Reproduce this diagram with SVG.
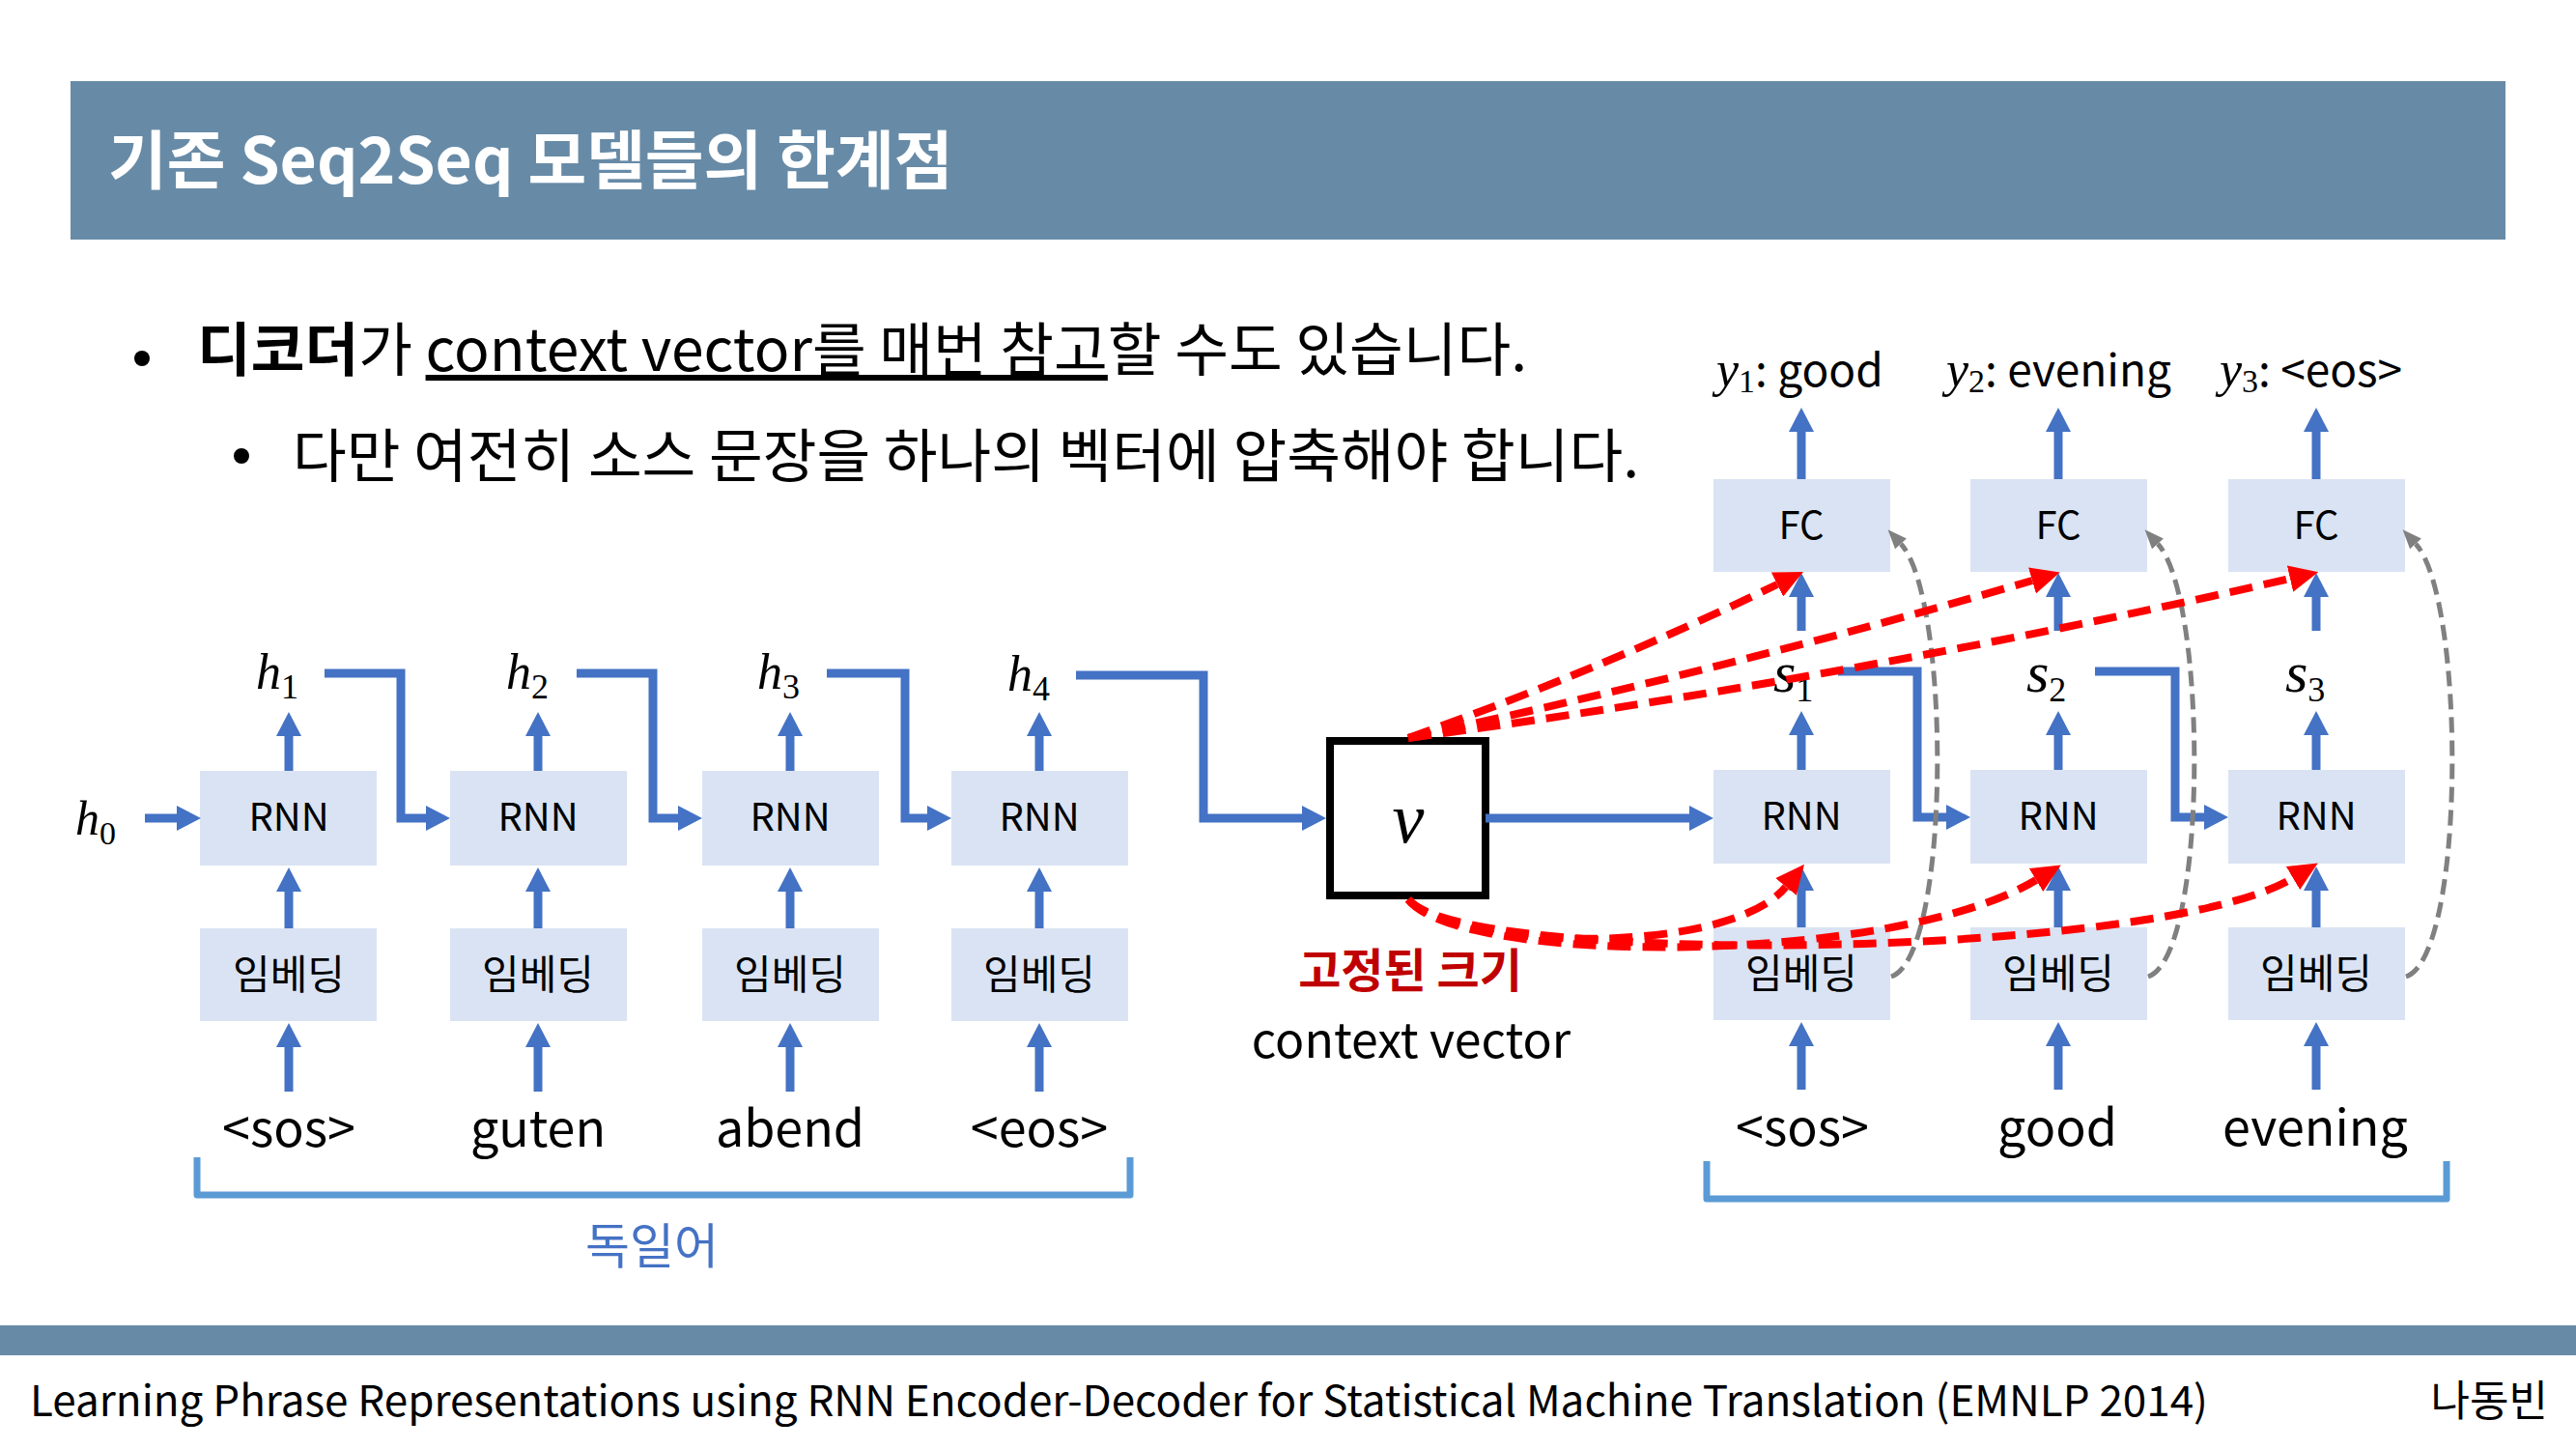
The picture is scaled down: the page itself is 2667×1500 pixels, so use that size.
<svg xmlns="http://www.w3.org/2000/svg" width="2667" height="1500" viewBox="0 0 2667 1500">
  <style>
    .sans { font-family: "Noto Sans CJK KR", "Noto Sans", sans-serif; }
    .math { font-family: "Liberation Serif", "DejaVu Serif", serif; font-style: italic; fill: #000; }
    .sub { font-style: normal; }
    .box { fill: #DAE3F3; }
    .lbl { font-family: "Noto Sans CJK KR", "Noto Sans", sans-serif; font-size: 40px; fill: #000; text-anchor: middle; }
    .emb { font-family: "Noto Sans CJK KR", "Noto Sans", sans-serif; font-size: 42px; fill: #000; text-anchor: middle; }
    .tok { font-family: "Noto Sans CJK KR", "Noto Sans", sans-serif; font-size: 52px; fill: #000; text-anchor: middle; }
    .flow { stroke: #4472C4; stroke-width: 9; fill: none; marker-end: url(#ah); }
    .attn { stroke: #FF0000; stroke-width: 8; fill: none; stroke-dasharray: 24 12; marker-end: url(#ar); }
    .skip { stroke: #808080; stroke-width: 5; fill: none; stroke-dasharray: 16 8; marker-end: url(#ag); }
    .brace { stroke: #5B9BD5; stroke-width: 7; fill: none; stroke-linejoin: round; }
  </style>
  <defs>
    <marker id="ah" markerUnits="userSpaceOnUse" viewBox="0 0 25 26" refX="0" refY="13" markerWidth="25" markerHeight="26" orient="auto">
      <path d="M0 0L25 13L0 26z" fill="#4472C4"/>
    </marker>
    <marker id="ar" markerUnits="userSpaceOnUse" viewBox="0 0 30 28" refX="0" refY="14" markerWidth="30" markerHeight="28" orient="auto">
      <path d="M0 0L30 14L0 28z" fill="#FF0000"/>
    </marker>
    <marker id="ag" markerUnits="userSpaceOnUse" viewBox="0 0 20 16" refX="0" refY="8" markerWidth="20" markerHeight="16" orient="auto">
      <path d="M0 0L20 8L0 16z" fill="#808080"/>
    </marker>
  </defs>

  <rect width="2667" height="1500" fill="#FFFFFF"/>

  <!-- header -->
  <g id="header">
    <rect x="73" y="84" width="2521" height="164" fill="#678BA7"/>
    <text class="sans" x="112" y="190" font-size="66" font-weight="bold" fill="#FFFFFF">기존 Seq2Seq 모델들의 한계점</text>
  </g>

  <!-- bullet points -->
  <g id="bullets" class="sans" font-size="60.6" fill="#000">
    <circle cx="147" cy="371" r="8" fill="#000"/>
    <text x="204" y="384"><tspan font-weight="bold">디코더</tspan>가 <tspan style="text-decoration:underline">context vector를 매번 참고</tspan>할 수도 있습니다.</text>
    <circle cx="250" cy="472" r="8" fill="#000"/>
    <text x="303" y="494">다만 여전히 소스 문장을 하나의 벡터에 압축해야 합니다.</text>
  </g>

  <!-- encoder -->
  <g id="enc-h0"><text class="math" x="78" y="864" font-size="50">h<tspan class="sub" font-size="34" dy="10">0</tspan></text></g>

  <g id="enc-rnn1"><rect class="box" x="207" y="798" width="183" height="98"/><text class="lbl" x="299" y="860">RNN</text></g>
  <g id="enc-rnn2"><rect class="box" x="466" y="798" width="183" height="98"/><text class="lbl" x="557" y="860">RNN</text></g>
  <g id="enc-rnn3"><rect class="box" x="727" y="798" width="183" height="98"/><text class="lbl" x="818" y="860">RNN</text></g>
  <g id="enc-rnn4"><rect class="box" x="985" y="798" width="183" height="98"/><text class="lbl" x="1076" y="860">RNN</text></g>

  <g id="enc-emb1"><rect class="box" x="207" y="961" width="183" height="96"/><text class="emb" x="299" y="1024">임베딩</text></g>
  <g id="enc-emb2"><rect class="box" x="466" y="961" width="183" height="96"/><text class="emb" x="557" y="1024">임베딩</text></g>
  <g id="enc-emb3"><rect class="box" x="727" y="961" width="183" height="96"/><text class="emb" x="818" y="1024">임베딩</text></g>
  <g id="enc-emb4"><rect class="box" x="985" y="961" width="183" height="96"/><text class="emb" x="1076" y="1024">임베딩</text></g>

  <g id="enc-h1"><text class="math" x="265" y="713" font-size="52">h<tspan class="sub" font-size="36" dy="10">1</tspan></text></g>
  <g id="enc-h2"><text class="math" x="524" y="713" font-size="52">h<tspan class="sub" font-size="36" dy="10">2</tspan></text></g>
  <g id="enc-h3"><text class="math" x="784" y="713" font-size="52">h<tspan class="sub" font-size="36" dy="10">3</tspan></text></g>
  <g id="enc-h4"><text class="math" x="1043" y="715" font-size="52">h<tspan class="sub" font-size="36" dy="10">4</tspan></text></g>

  <g id="enc-tokens">
    <text class="tok" x="299" y="1187">&lt;sos&gt;</text>
    <text class="tok" x="557" y="1187">guten</text>
    <text class="tok" x="818" y="1187">abend</text>
    <text class="tok" x="1076" y="1187">&lt;eos&gt;</text>
  </g>

  <g id="enc-brace">
    <path class="brace" d="M204 1198V1237H1170V1198"/>
    <text class="sans" x="675" y="1308" font-size="50" fill="#4472C4" text-anchor="middle">독일어</text>
  </g>

  <!-- context vector -->
  <g id="context">
    <rect x="1377" y="767" width="161" height="160" fill="#FFFFFF" stroke="#000" stroke-width="8"/>
    <text class="math" x="1458" y="872" font-size="74" text-anchor="middle">v</text>
    <text class="sans" x="1460" y="1022" font-size="48" font-weight="bold" fill="#C00000" text-anchor="middle">고정된 크기</text>
    <text class="sans" x="1461" y="1095" font-size="50" fill="#000" text-anchor="middle">context vector</text>
  </g>

  <!-- decoder -->
  <g id="dec-fc1"><rect class="box" x="1774" y="496" width="183" height="96"/><text class="lbl" x="1865" y="558">FC</text></g>
  <g id="dec-fc2"><rect class="box" x="2040" y="496" width="183" height="96"/><text class="lbl" x="2131" y="558">FC</text></g>
  <g id="dec-fc3"><rect class="box" x="2307" y="496" width="183" height="96"/><text class="lbl" x="2398" y="558">FC</text></g>

  <g id="dec-rnn1"><rect class="box" x="1774" y="797" width="183" height="97"/><text class="lbl" x="1865" y="859">RNN</text></g>
  <g id="dec-rnn2"><rect class="box" x="2040" y="797" width="183" height="97"/><text class="lbl" x="2131" y="859">RNN</text></g>
  <g id="dec-rnn3"><rect class="box" x="2307" y="797" width="183" height="97"/><text class="lbl" x="2398" y="859">RNN</text></g>

  <g id="dec-emb1"><rect class="box" x="1774" y="960" width="183" height="96"/><text class="emb" x="1865" y="1023">임베딩</text></g>
  <g id="dec-emb2"><rect class="box" x="2040" y="960" width="183" height="96"/><text class="emb" x="2131" y="1023">임베딩</text></g>
  <g id="dec-emb3"><rect class="box" x="2307" y="960" width="183" height="96"/><text class="emb" x="2398" y="1023">임베딩</text></g>

  <g id="dec-s1"><text class="math" x="1836" y="716" font-size="60">s<tspan class="sub" font-size="36" dy="10">1</tspan></text></g>
  <g id="dec-s2"><text class="math" x="2098" y="716" font-size="60">s<tspan class="sub" font-size="36" dy="10">2</tspan></text></g>
  <g id="dec-s3"><text class="math" x="2366" y="716" font-size="60">s<tspan class="sub" font-size="36" dy="10">3</tspan></text></g>

  <g id="dec-y1"><text x="1777" y="400"><tspan class="math" font-size="52">y</tspan><tspan class="math sub" font-size="34" dy="6">1</tspan><tspan class="sans" font-size="46" dy="-6">: good</tspan></text></g>
  <g id="dec-y2"><text x="2015" y="400"><tspan class="math" font-size="52">y</tspan><tspan class="math sub" font-size="34" dy="6">2</tspan><tspan class="sans" font-size="46" dy="-6">: evening</tspan></text></g>
  <g id="dec-y3"><text x="2298" y="400"><tspan class="math" font-size="52">y</tspan><tspan class="math sub" font-size="34" dy="6">3</tspan><tspan class="sans" font-size="46" dy="-6">: &lt;eos&gt;</tspan></text></g>

  <g id="dec-tokens">
    <text class="tok" x="1866" y="1186">&lt;sos&gt;</text>
    <text class="tok" x="2130" y="1186">good</text>
    <text class="tok" x="2397" y="1186">evening</text>
  </g>

  <g id="dec-brace">
    <path class="brace" d="M1767 1202V1241H2533V1202"/>
  </g>

  <!-- connectors -->
  <g id="connectors">
    <!-- encoder -->
    <line class="flow" x1="150" y1="847" x2="183" y2="847"/>
    <line class="flow" x1="299" y1="1130" x2="299" y2="1084"/>
    <line class="flow" x1="557" y1="1130" x2="557" y2="1084"/>
    <line class="flow" x1="818" y1="1130" x2="818" y2="1084"/>
    <line class="flow" x1="1076" y1="1130" x2="1076" y2="1084"/>
    <line class="flow" x1="299" y1="961" x2="299" y2="923"/>
    <line class="flow" x1="557" y1="961" x2="557" y2="923"/>
    <line class="flow" x1="818" y1="961" x2="818" y2="923"/>
    <line class="flow" x1="1076" y1="961" x2="1076" y2="923"/>
    <line class="flow" x1="299" y1="798" x2="299" y2="762"/>
    <line class="flow" x1="557" y1="798" x2="557" y2="762"/>
    <line class="flow" x1="818" y1="798" x2="818" y2="762"/>
    <line class="flow" x1="1076" y1="798" x2="1076" y2="762"/>
    <polyline class="flow" points="336,697 415,697 415,847 441,847"/>
    <polyline class="flow" points="597,697 676,697 676,847 702,847"/>
    <polyline class="flow" points="856,697 937,697 937,847 960,847"/>
    <polyline class="flow" points="1114,699 1246,699 1246,847 1348,847"/>
    <!-- context vector into decoder -->
    <line class="flow" x1="1538" y1="847" x2="1749" y2="847"/>
    <!-- decoder -->
    <line class="flow" x1="1865" y1="1128" x2="1865" y2="1083"/>
    <line class="flow" x1="2131" y1="1128" x2="2131" y2="1083"/>
    <line class="flow" x1="2398" y1="1128" x2="2398" y2="1083"/>
    <line class="flow" x1="1865" y1="960" x2="1865" y2="922"/>
    <line class="flow" x1="2131" y1="960" x2="2131" y2="922"/>
    <line class="flow" x1="2398" y1="960" x2="2398" y2="922"/>
    <line class="flow" x1="1865" y1="797" x2="1865" y2="761"/>
    <line class="flow" x1="2131" y1="797" x2="2131" y2="761"/>
    <line class="flow" x1="2398" y1="797" x2="2398" y2="761"/>
    <line class="flow" x1="1865" y1="653" x2="1865" y2="618"/>
    <line class="flow" x1="2131" y1="653" x2="2131" y2="618"/>
    <line class="flow" x1="2398" y1="653" x2="2398" y2="618"/>
    <line class="flow" x1="1865" y1="496" x2="1865" y2="447"/>
    <line class="flow" x1="2131" y1="496" x2="2131" y2="447"/>
    <line class="flow" x1="2398" y1="496" x2="2398" y2="447"/>
    <polyline class="flow" points="1903,695 1985,695 1985,846 2015,846"/>
    <polyline class="flow" points="2169,695 2252,695 2252,846 2282,846"/>
    <!-- embedding shortcut into FC -->
    <path class="skip" d="M1958 1011C2020 990 2020 620 1968 563"/>
    <path class="skip" d="M2224 1011C2286 990 2286 620 2234 563"/>
    <path class="skip" d="M2491 1011C2553 990 2553 620 2501 563"/>
    <!-- context vector reused at every step -->
    <path class="attn" d="M1458 764Q1665 690 1840 605"/>
    <path class="attn" d="M1458 764Q1800 690 2104 601"/>
    <path class="attn" d="M1458 764Q1930 700 2371 599"/>
    <path class="attn" d="M1458 931C1510 985 1790 990 1849 918"/>
    <path class="attn" d="M1458 931C1510 1000 1960 1000 2108 911"/>
    <path class="attn" d="M1458 931C1510 1000 2230 995 2374 909"/>
  </g>

  <!-- footer -->
  <g id="footer">
    <rect x="0" y="1372" width="2667" height="31" fill="#678BA7"/>
    <text class="sans" x="31" y="1466" font-size="44" fill="#000">Learning Phrase Representations using RNN Encoder-Decoder for Statistical Machine Translation (EMNLP 2014)</text>
    <text class="sans" x="2638" y="1466" font-size="44" fill="#000" text-anchor="end">나동빈</text>
  </g>
</svg>
